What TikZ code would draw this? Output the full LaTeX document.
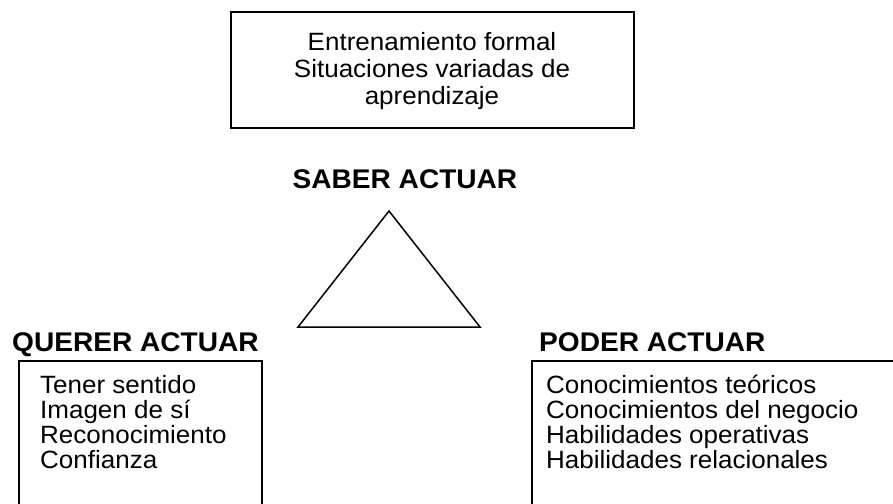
\documentclass[tikz,border=0pt]{standalone}
\usepackage{fontspec}
\setmainfont[FakeStretch=1.04]{Liberation Sans}
\usepackage{tikz}

\begin{document}
\begin{tikzpicture}
[x=1pt,y=-1pt,
caja/.style={draw=black,line width=1.5pt},
texto/.style={inner sep=0pt,font=\fontsize{25}{25}\selectfont},
titulo/.style={inner sep=0pt,font=\fontsize{27}{29}\selectfont\bfseries}]

\useasboundingbox (0,0) rectangle (893,503);
\clip (0,0) rectangle (893,503);

% caja superior
\draw [caja] (231,12) rectangle (634,128);
\node at (432,31.8) [texto,anchor=north,align=center,font=\fontsize{25}{27}\selectfont] (entrena)
  {Entrenamiento formal\\Situaciones variadas de\\aprendizaje};

% triangulo
\node at (405,188) [titulo,anchor=base] (saber) {SABER ACTUAR};
\coordinate (arriba) at (389,211);
\coordinate (izq) at (298,327);
\coordinate (der) at (480,327);
\draw [line width=1.5pt,line join=miter] (arriba) -- (izq) -- (der) -- cycle;

% querer actuar
\node at (12,351) [titulo,anchor=base west] (querer) {QUERER ACTUAR};
\draw [caja] (19,520) -- (19,361) -- (262,361) -- (262,520);
\node at (40,375) [texto,anchor=north west,align=left] (motivos)
  {Tener sentido\\Imagen de sí\\Reconocimiento\\Confianza};

% poder actuar
\node at (539,351) [titulo,anchor=base west] (poder) {PODER ACTUAR};
\draw [caja] (532,520) -- (532,361) -- (900,361);
\node at (546,375) [texto,anchor=north west,align=left] (saberes)
  {Conocimientos teóricos\\Conocimientos del negocio\\Habilidades operativas\\Habilidades relacionales};
\end{tikzpicture}
\end{document}
